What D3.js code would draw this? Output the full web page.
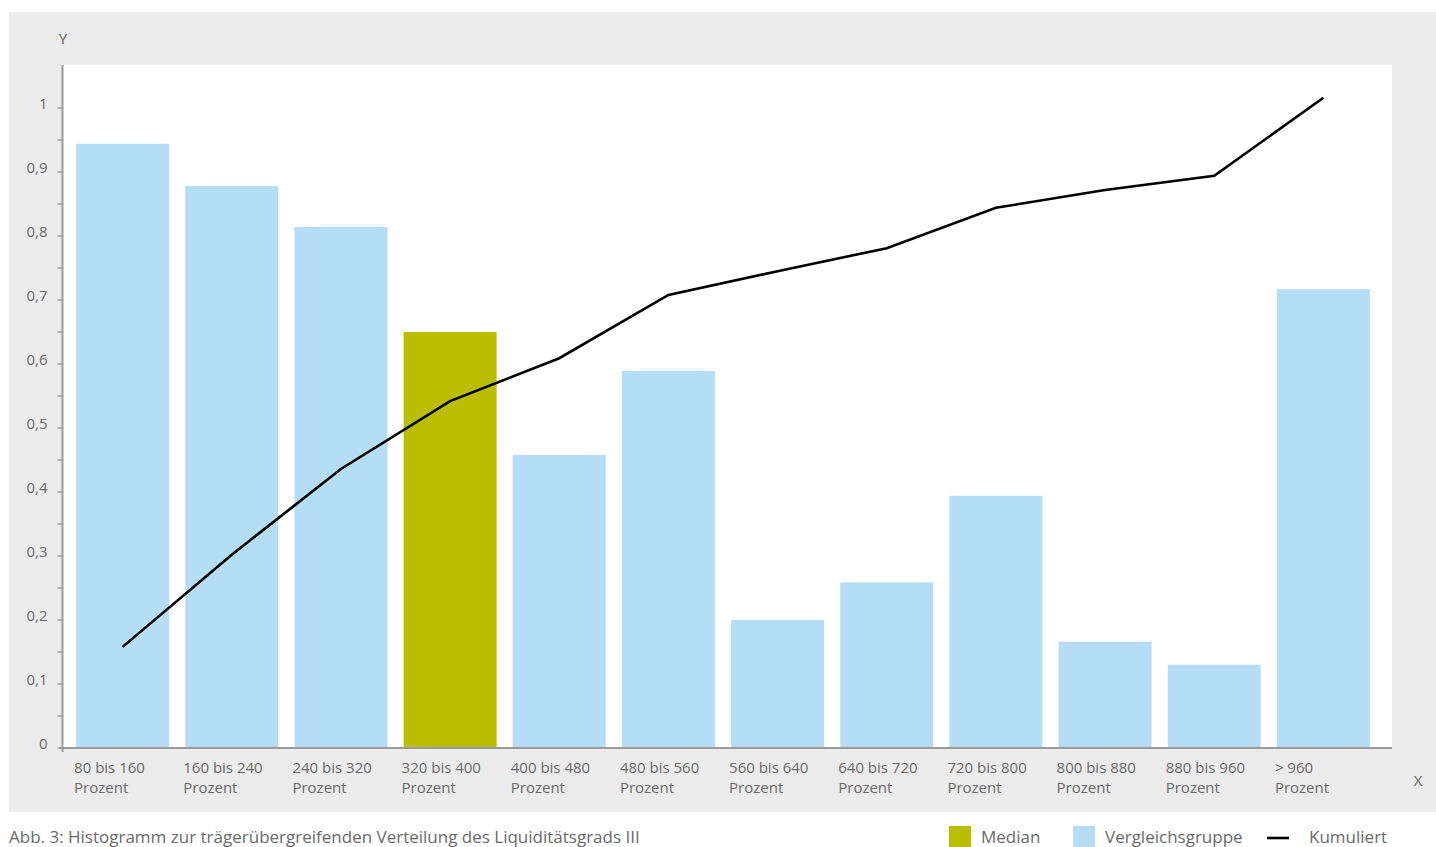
<!DOCTYPE html>
<html>
<head>
<meta charset="utf-8">
<script src="https://cdn.jsdelivr.net/npm/d3@7"></script>
<style>
  body { margin: 0; background: #fff; }
  svg { display: block; font-family: "Open Sans", "Noto Sans", sans-serif; }
</style>
</head>
<body>
<div id="chart"></div>
<script>
const categories = [
  "80 bis 160", "160 bis 240", "240 bis 320", "320 bis 400", "400 bis 480", "480 bis 560",
  "560 bis 640", "640 bis 720", "720 bis 800", "800 bis 880", "880 bis 960", "> 960"
];
const barValues = [0.944, 0.878, 0.814, 0.65, 0.458, 0.589, 0.2, 0.259, 0.394, 0.166, 0.13, 0.717];
const cumulative = [0.158, 0.302, 0.436, 0.542, 0.609, 0.708, 0.745, 0.781, 0.844, 0.872, 0.894, 1.016];
const medianIndex = 3;
const yTicks = [0, 0.1, 0.2, 0.3, 0.4, 0.5, 0.6, 0.7, 0.8, 0.9, 1];

const W = 1436, H = 847;
const colors = { bar: "#b5ddf6", median: "#bbbd00", line: "#000", panel: "#ececec", text: "#6a6a6a", axis: "#9a9a9a" };

const svg = d3.select("#chart").append("svg").attr("width", W).attr("height", H);

// grey panel + white plot area
svg.append("rect").attr("x", 9).attr("y", 12).attr("width", W - 9).attr("height", 800).attr("fill", colors.panel);
const plot = { left: 63, right: 1392, top: 65, bottom: 748 };
svg.append("rect").attr("x", plot.left).attr("y", plot.top)
  .attr("width", plot.right - plot.left).attr("height", plot.bottom - plot.top).attr("fill", "#fff");

const x = d3.scaleBand().domain(categories).range([63, 1383]).paddingInner(0.148).paddingOuter(0.12);
const y = d3.scaleLinear().domain([0, 1]).range([748, 108]);

// bars
svg.append("g").selectAll("rect")
  .data(barValues)
  .join("rect")
  .attr("x", (d, i) => x(categories[i]))
  .attr("y", d => y(d))
  .attr("width", x.bandwidth())
  .attr("height", d => y(0) - y(d))
  .attr("fill", (d, i) => i === medianIndex ? colors.median : colors.bar);

// cumulative line
const line = d3.line()
  .x((d, i) => x(categories[i]) + x.bandwidth() / 2)
  .y(d => y(d));
svg.append("path").datum(cumulative)
  .attr("d", line).attr("fill", "none").attr("stroke", colors.line).attr("stroke-width", 2.6);

// y axis
const yAxis = svg.append("g").attr("transform", `translate(${plot.left - 0.5},0)`);
yAxis.append("line").attr("y1", plot.top).attr("y2", plot.bottom + 4).attr("stroke", colors.axis).attr("stroke-width", 2);
const minor = d3.range(0, 21).map(i => i * 0.05);
yAxis.selectAll("line.tick").data(minor).join("line").attr("class", "tick")
  .attr("x1", -5).attr("x2", 0).attr("y1", d => y(d)).attr("y2", d => y(d))
  .attr("stroke", colors.axis).attr("stroke-width", 1.3);
yAxis.selectAll("text").data(yTicks).join("text")
  .attr("x", -15).attr("y", d => y(d) + 1)
  .attr("text-anchor", "end").attr("fill", colors.text).attr("font-size", 15)
  .text(d => d3.format(".1~f")(d).replace(".", ","));
svg.append("text").attr("x", plot.left).attr("y", 44).attr("text-anchor", "middle")
  .attr("fill", colors.text).attr("font-size", 15).text("Y");

// x axis
svg.append("line").attr("x1", 59).attr("x2", plot.right).attr("y1", plot.bottom).attr("y2", plot.bottom)
  .attr("stroke", colors.axis).attr("stroke-width", 2);
const xl = svg.append("g").selectAll("text").data(categories).join("text")
  .attr("x", d => x(d) - 2).attr("y", 773)
  .attr("fill", colors.text).attr("font-size", 15);
xl.append("tspan").attr("x", d => x(d) - 2).text(d => d);
xl.append("tspan").attr("x", d => x(d) - 2).attr("dy", 20).text("Prozent");
svg.append("text").attr("x", 1418).attr("y", 786).attr("text-anchor", "middle")
  .attr("fill", colors.text).attr("font-size", 15).text("X");

// caption
svg.append("text").attr("x", 9).attr("y", 843).attr("fill", colors.text).attr("font-size", 17)
  .text("Abb. 3: Histogramm zur trägerübergreifenden Verteilung des Liquiditätsgrads III");

// legend
const legend = svg.append("g");
legend.append("rect").attr("x", 949).attr("y", 826).attr("width", 22).attr("height", 22).attr("fill", colors.median);
legend.append("text").attr("x", 981).attr("y", 843).attr("fill", colors.text).attr("font-size", 17).text("Median");
legend.append("rect").attr("x", 1073).attr("y", 826).attr("width", 22).attr("height", 22).attr("fill", colors.bar);
legend.append("text").attr("x", 1105).attr("y", 843).attr("fill", colors.text).attr("font-size", 17).text("Vergleichsgruppe");
legend.append("line").attr("x1", 1267).attr("x2", 1289).attr("y1", 838).attr("y2", 838).attr("stroke", colors.line).attr("stroke-width", 2.6);
legend.append("text").attr("x", 1309).attr("y", 843).attr("fill", colors.text).attr("font-size", 17).text("Kumuliert");
</script>
</body>
</html>
